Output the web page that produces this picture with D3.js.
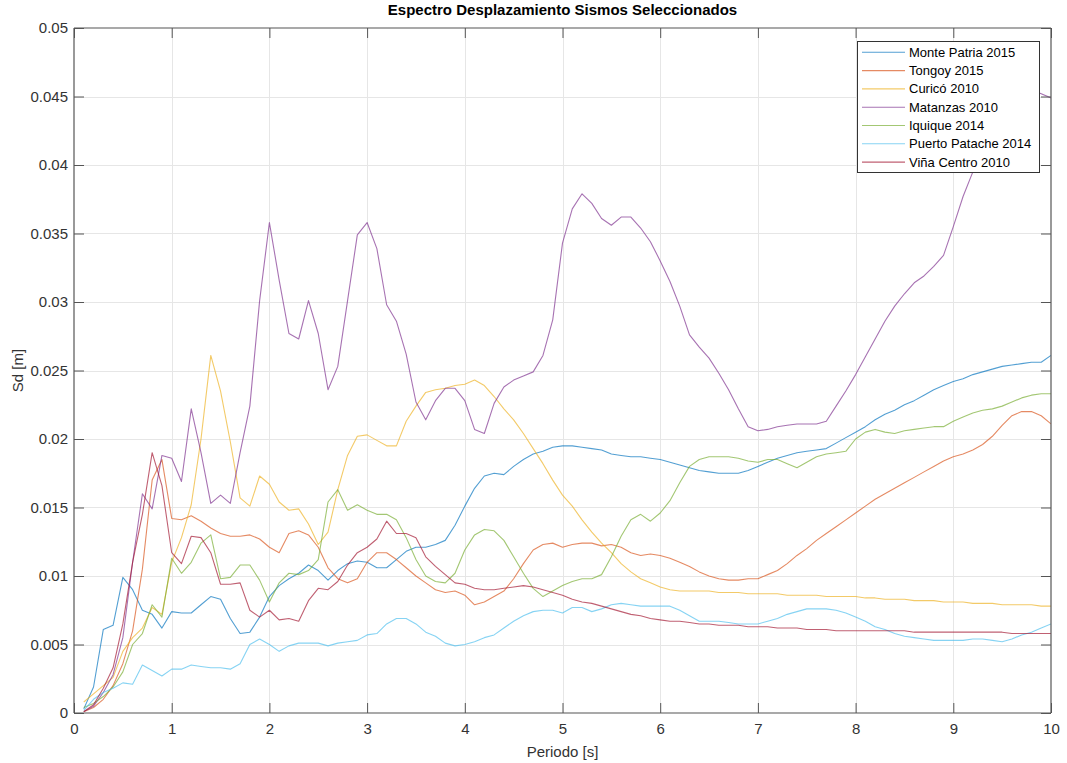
<!DOCTYPE html>
<html>
<head>
<meta charset="utf-8">
<script src="https://cdn.jsdelivr.net/npm/d3@7/dist/d3.min.js"></script>
<style>
  html, body { margin: 0; padding: 0; background: #fff; }
  svg { display: block; font-family: "Liberation Sans", Arial, Helvetica, sans-serif; }
</style>
</head>
<body>
<svg id="chart" width="1067" height="763"></svg>
<script>
// Periods [s]
const periods = [
  0.1,0.2,0.3,0.4,0.5,0.6,0.7,0.8,0.9,1.0,
  1.1,1.2,1.3,1.4,1.5,1.6,1.7,1.8,1.9,2.0,
  2.1,2.2,2.3,2.4,2.5,2.6,2.7,2.8,2.9,3.0,
  3.1,3.2,3.3,3.4,3.5,3.6,3.7,3.8,3.9,4.0,
  4.1,4.2,4.3,4.4,4.5,4.6,4.7,4.8,4.9,5.0,
  5.1,5.2,5.3,5.4,5.5,5.6,5.7,5.8,5.9,6.0,
  6.1,6.2,6.3,6.4,6.5,6.6,6.7,6.8,6.9,7.0,
  7.1,7.2,7.3,7.4,7.5,7.6,7.7,7.8,7.9,8.0,
  8.1,8.2,8.3,8.4,8.5,8.6,8.7,8.8,8.9,9.0,
  9.1,9.2,9.3,9.4,9.5,9.6,9.7,9.8,9.9,10.0
];

// Spectral displacement Sd, in millimetres (converted to metres when plotted)
const sdMontePatria = [
  0.3,1.9,6.1,6.4,9.9,9.0,7.5,7.2,6.2,7.4,
  7.3,7.3,7.9,8.5,8.3,6.9,5.8,5.9,7.0,8.5,
  9.3,9.8,10.2,10.8,10.4,9.7,10.4,10.9,11.1,11.0,
  10.6,10.6,11.2,11.8,12.1,12.1,12.3,12.6,13.7,15.1,
  16.4,17.3,17.5,17.4,18.0,18.5,18.9,19.1,19.4,19.5,
  19.5,19.4,19.3,19.2,18.9,18.8,18.7,18.7,18.6,18.5,
  18.3,18.1,17.9,17.7,17.6,17.5,17.5,17.5,17.7,18.0,
  18.3,18.6,18.8,19.0,19.1,19.2,19.3,19.7,20.1,20.5,
  20.9,21.4,21.8,22.1,22.5,22.8,23.2,23.6,23.9,24.2,
  24.4,24.7,24.9,25.1,25.3,25.4,25.5,25.6,25.6,26.1
];
const sdTongoy = [
  0.1,0.4,1.0,2.0,3.6,6.0,10.5,17.0,18.5,14.2,
  14.1,14.4,14.0,13.5,13.1,12.9,12.9,13.0,12.7,12.1,
  11.7,13.1,13.3,13.0,12.1,10.6,9.8,9.5,9.8,11.0,
  11.7,11.7,11.2,10.6,10.0,9.5,9.0,8.8,8.9,8.6,
  7.9,8.1,8.5,8.9,9.8,10.9,11.9,12.3,12.4,12.1,
  12.3,12.4,12.4,12.2,12.3,12.1,11.7,11.5,11.6,11.5,
  11.3,11.0,10.7,10.3,10.0,9.8,9.7,9.7,9.8,9.8,
  10.1,10.4,10.9,11.5,12.0,12.6,13.1,13.6,14.1,14.6,
  15.1,15.6,16.0,16.4,16.8,17.2,17.6,18.0,18.4,18.7,
  18.9,19.2,19.6,20.2,21.0,21.7,22.0,22.0,21.7,21.1
];
const sdCurico = [
  0.8,1.4,2.0,2.6,4.5,5.5,6.2,7.7,7.2,11.0,
  12.8,15.2,20.0,26.1,23.5,19.8,15.7,15.1,17.3,16.7,
  15.4,14.8,14.9,13.8,12.3,13.2,16.3,18.8,20.2,20.3,
  19.9,19.5,19.5,21.3,22.4,23.4,23.6,23.7,23.9,24.0,
  24.3,23.9,23.1,22.2,21.4,20.4,19.3,18.2,17.0,15.9,
  15.1,14.1,13.2,12.4,11.7,10.9,10.3,9.8,9.5,9.2,
  9.0,8.9,8.9,8.9,8.9,8.8,8.8,8.8,8.7,8.7,
  8.7,8.7,8.6,8.6,8.6,8.6,8.5,8.5,8.5,8.5,
  8.4,8.4,8.3,8.3,8.3,8.2,8.2,8.2,8.1,8.1,
  8.1,8.0,8.0,8.0,7.9,7.9,7.9,7.9,7.8,7.8
];
const sdMatanzas = [
  0.1,0.5,1.5,2.8,5.5,11.0,16.0,14.9,18.8,18.6,
  16.9,22.2,19.0,15.3,15.9,15.3,19.0,22.4,30.1,35.8,
  31.6,27.7,27.3,30.1,27.7,23.6,25.3,30.1,34.9,35.8,
  33.9,29.8,28.6,26.2,22.7,21.4,22.8,23.7,23.7,22.8,
  20.7,20.4,22.6,23.8,24.3,24.6,24.9,26.1,28.7,34.3,
  36.8,37.9,37.2,36.1,35.6,36.2,36.2,35.4,34.4,33.0,
  31.5,29.7,27.6,26.7,25.9,24.8,23.6,22.2,20.9,20.6,
  20.7,20.9,21.0,21.1,21.1,21.1,21.3,22.4,23.5,24.7,
  26.0,27.3,28.6,29.7,30.6,31.4,31.9,32.6,33.4,35.5,
  37.7,39.5,41.0,42.3,43.3,44.2,44.8,45.5,45.2,44.9
];
const sdIquique = [
  0.4,0.7,1.2,1.9,3.0,5.0,5.8,7.9,7.0,11.3,
  10.2,11.0,12.4,13.0,9.8,9.9,10.8,10.8,9.7,8.1,
  9.5,10.2,10.1,10.4,11.2,15.4,16.3,14.8,15.2,14.8,
  14.5,14.5,14.1,12.8,11.2,10.0,9.6,9.5,10.2,11.9,
  13.0,13.4,13.3,12.6,11.4,10.2,9.1,8.5,8.9,9.3,
  9.6,9.8,9.8,10.1,11.4,12.9,14.1,14.5,14.0,14.6,
  15.5,16.8,18.0,18.5,18.7,18.7,18.7,18.6,18.4,18.3,
  18.5,18.5,18.2,17.9,18.3,18.7,18.9,19.0,19.1,20.0,
  20.5,20.7,20.5,20.4,20.6,20.7,20.8,20.9,20.9,21.3,
  21.6,21.9,22.1,22.2,22.4,22.7,23.0,23.2,23.3,23.3
];
const sdPuertoPatache = [
  0.2,1.0,1.5,1.8,2.2,2.1,3.5,3.1,2.7,3.2,
  3.2,3.5,3.4,3.3,3.3,3.2,3.6,5.0,5.4,5.0,
  4.5,4.9,5.1,5.1,5.1,4.9,5.1,5.2,5.3,5.7,
  5.8,6.5,6.9,6.9,6.5,5.9,5.6,5.1,4.9,5.0,
  5.2,5.5,5.7,6.2,6.7,7.1,7.4,7.5,7.5,7.3,
  7.7,7.7,7.4,7.6,7.9,8.0,7.9,7.8,7.8,7.8,
  7.8,7.5,7.1,6.7,6.7,6.7,6.6,6.5,6.5,6.5,
  6.7,6.9,7.2,7.4,7.6,7.6,7.6,7.5,7.3,7.0,
  6.7,6.3,6.1,5.8,5.6,5.5,5.4,5.3,5.3,5.3,
  5.3,5.4,5.4,5.3,5.2,5.4,5.7,5.9,6.2,6.5
];
const sdVinaCentro = [
  0.1,0.6,1.8,3.3,6.5,11.0,14.5,19.0,16.6,11.7,
  10.9,12.9,12.8,11.7,9.4,9.4,9.5,7.5,7.0,7.5,
  6.8,6.9,6.7,8.2,9.1,9.0,9.6,10.8,11.7,12.1,
  12.7,14.0,13.1,13.1,12.8,11.4,10.7,10.1,9.5,9.4,
  9.1,9.0,9.0,9.1,9.2,9.3,9.2,9.0,8.8,8.6,
  8.3,8.1,8.0,7.8,7.6,7.4,7.2,7.1,6.9,6.8,
  6.7,6.7,6.6,6.5,6.5,6.4,6.4,6.4,6.3,6.3,
  6.3,6.2,6.2,6.2,6.1,6.1,6.1,6.0,6.0,6.0,
  6.0,6.0,6.0,6.0,6.0,5.9,5.9,5.9,5.9,5.9,
  5.9,5.9,5.9,5.9,5.9,5.8,5.8,5.8,5.8,5.8
];

const seriesNames = [
  "Monte Patria 2015", "Tongoy 2015", "Curicó 2010", "Matanzas 2010",
  "Iquique 2014", "Puerto Patache 2014", "Viña Centro 2010"
];
const seriesValues = [
  sdMontePatria, sdTongoy, sdCurico, sdMatanzas,
  sdIquique, sdPuertoPatache, sdVinaCentro
];
const seriesColors = ["#0072BD", "#D95319", "#EDB120", "#7E2F8E", "#77AC30", "#4DBEEE", "#A2142F"];

const xTicks = [0,1,2,3,4,5,6,7,8,9,10];
const yTicks = [0,0.005,0.01,0.015,0.02,0.025,0.03,0.035,0.04,0.045,0.05];
const yTickLabels = ["0","0.005","0.01","0.015","0.02","0.025","0.03","0.035","0.04","0.045","0.05"];

const titleText = "Espectro Desplazamiento Sismos Seleccionados";
const xLabelText = "Periodo [s]";
const yLabelText = "Sd [m]";

// ---- layout ----
const plot = { left: 74, right: 1051, top: 28, bottom: 713 };
const svg = d3.select("#chart");
const axisColor = "#555";
const textColor = "#333";
const lineOpacity = 0.68;

const x = d3.scaleLinear().domain([0, 10]).range([plot.left, plot.right]);
const y = d3.scaleLinear().domain([0, 0.05]).range([plot.bottom, plot.top]);

svg.append("rect").attr("x", 0).attr("y", 0).attr("width", 1067).attr("height", 763).attr("fill", "#fff");

// grid
const grid = svg.append("g").attr("stroke", "#e6e6e6").attr("stroke-width", 1);
grid.selectAll("line.gx").data(xTicks.slice(1, -1)).join("line")
  .attr("x1", d => Math.round(x(d)) + 0.5).attr("x2", d => Math.round(x(d)) + 0.5)
  .attr("y1", plot.top).attr("y2", plot.bottom);
grid.selectAll("line.gy").data(yTicks.slice(1, -1)).join("line")
  .attr("y1", d => Math.round(y(d)) + 0.5).attr("y2", d => Math.round(y(d)) + 0.5)
  .attr("x1", plot.left).attr("x2", plot.right);

// data lines
svg.append("clipPath").attr("id", "plotclip").append("rect")
  .attr("x", plot.left).attr("y", plot.top)
  .attr("width", plot.right - plot.left).attr("height", plot.bottom - plot.top);

const line = d3.line()
  .x((d, i) => x(periods[i]))
  .y(d => y(d / 1000));

svg.append("g").attr("clip-path", "url(#plotclip)")
  .selectAll("path").data(seriesValues).join("path")
  .attr("d", d => line(d))
  .attr("fill", "none")
  .attr("stroke", (d, i) => seriesColors[i])
  .attr("stroke-opacity", lineOpacity)
  .attr("stroke-width", 1.1)
  .attr("stroke-linejoin", "round");

// axes (ticks pointing inward on all four sides)
const tickLen = 10;
const axBottom = d3.axisBottom(x).tickValues(xTicks).tickSize(-tickLen).tickPadding(10).tickFormat(d3.format("d"));
const axTop = d3.axisTop(x).tickValues(xTicks).tickSize(-tickLen).tickFormat("");
const axLeft = d3.axisLeft(y).tickValues(yTicks).tickSize(-tickLen).tickPadding(6)
  .tickFormat((d, i) => yTickLabels[i]);
const axRight = d3.axisRight(y).tickValues(yTicks).tickSize(-tickLen).tickFormat("");

function styleAxis(g) {
  g.select(".domain").attr("stroke", axisColor).attr("stroke-width", 1.2);
  g.selectAll(".tick line").attr("stroke", axisColor).attr("stroke-width", 1);
  g.selectAll(".tick text").attr("fill", textColor).attr("font-size", 15)
    .attr("font-family", "\"Liberation Sans\", Arial, sans-serif");
}
svg.append("g").attr("transform", `translate(0,${plot.bottom})`).call(axBottom).call(styleAxis)
  .call(g => g.selectAll(".domain").attr("d", `M${plot.left},0H${plot.right}`));
svg.append("g").attr("transform", `translate(0,${plot.top})`).call(axTop).call(styleAxis)
  .call(g => g.selectAll(".domain").attr("d", `M${plot.left},0H${plot.right}`));
svg.append("g").attr("transform", `translate(${plot.left},0)`).call(axLeft).call(styleAxis)
  .call(g => g.selectAll(".domain").attr("d", `M0,${plot.bottom}V${plot.top}`));
svg.append("g").attr("transform", `translate(${plot.right},0)`).call(axRight).call(styleAxis)
  .call(g => g.selectAll(".domain").attr("d", `M0,${plot.bottom}V${plot.top}`));

// titles
svg.append("text").attr("x", (plot.left + plot.right) / 2).attr("y", 15)
  .attr("text-anchor", "middle").attr("font-size", 15).attr("font-weight", "bold")
  .attr("fill", "#000").text(titleText);
svg.append("text").attr("x", (plot.left + plot.right) / 2).attr("y", 757)
  .attr("text-anchor", "middle").attr("font-size", 15).attr("fill", textColor).text(xLabelText);
svg.append("text").attr("transform", `translate(23,${(plot.top + plot.bottom) / 2}) rotate(-90)`)
  .attr("text-anchor", "middle").attr("font-size", 15).attr("fill", textColor).text(yLabelText);

// legend
const lg = { x: 857, y: 41, w: 182, h: 131, row: 18.3, first: 52.3 };
const legend = svg.append("g");
legend.append("rect").attr("x", lg.x + 0.5).attr("y", lg.y + 0.5).attr("width", lg.w).attr("height", lg.h)
  .attr("fill", "#fff").attr("stroke", "#333").attr("stroke-width", 1);
const items = legend.selectAll("g.item").data(seriesNames).join("g")
  .attr("transform", (d, i) => `translate(0,${lg.first + i * lg.row})`);
items.append("line").attr("x1", 862).attr("x2", 905).attr("y1", 0).attr("y2", 0)
  .attr("stroke", (d, i) => seriesColors[i]).attr("stroke-opacity", lineOpacity).attr("stroke-width", 1.1);
items.append("text").attr("x", 909).attr("y", 0).attr("dy", "0.35em")
  .attr("font-size", 13).attr("fill", "#000").text(d => d);
</script>
</body>
</html>
